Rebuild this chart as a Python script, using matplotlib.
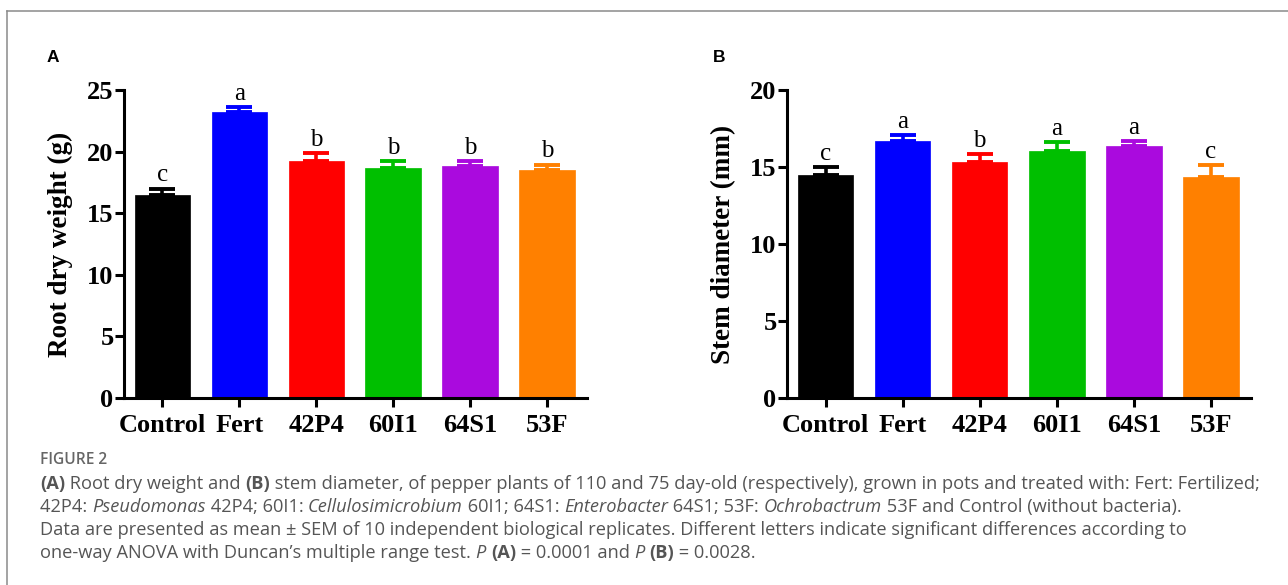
import matplotlib
matplotlib.use("Agg")
import matplotlib.pyplot as plt
from matplotlib.lines import Line2D

categories = ["Control", "Fert", "42P4", "60I1", "64S1", "53F"]
colors = ["#000000", "#0000FF", "#FF0000", "#00BF00", "#AA0ADE", "#FF8000"]

root_weight = [16.5, 23.2, 19.2, 18.7, 18.8, 18.5]
root_err = [0.5, 0.4, 0.65, 0.5, 0.4, 0.45]
root_letters = ["c", "a", "b", "b", "b", "b"]

stem_diam = [14.45, 16.7, 15.3, 16.05, 16.35, 14.35]
stem_err = [0.55, 0.38, 0.55, 0.55, 0.33, 0.75]
stem_letters = ["c", "a", "b", "a", "a", "c"]

SERIF = "Liberation Serif"
W, H = 1288, 585

fig = plt.figure(figsize=(W / 100, H / 100), dpi=100)


def panel(rect, values, errs, letters, ylabel, ymax, step, tag, tag_x):
    ax = fig.add_axes(rect)
    x = range(len(categories))
    ax.bar(x, values, width=0.72, color=colors, edgecolor=colors, linewidth=0.5, zorder=2)
    for i in x:
        ax.errorbar(i, values[i], yerr=[[0], [errs[i]]], color=colors[i],
                    elinewidth=2.6, capsize=9.5, capthick=2.8, zorder=1)
        ax.annotate(letters[i], (i, values[i] + errs[i]), xytext=(0, 1.5),
                    textcoords="offset points", ha="center", va="bottom",
                    fontsize=18, family=SERIF)
    ax.set_xlim(-0.5, 5.52)
    ax.set_ylim(0, ymax)
    ax.set_yticks(range(0, ymax + 1, step))
    ax.set_xticks(list(x))
    ax.set_xticklabels(categories, fontsize=19, fontweight="bold", family=SERIF)
    for lab in ax.get_yticklabels():
        lab.set_fontsize(19)
        lab.set_fontweight("bold")
        lab.set_family(SERIF)
    ax.set_ylabel(ylabel, fontsize=19.5, fontweight="bold", family=SERIF, labelpad=10)
    for s in ["top", "right"]:
        ax.spines[s].set_visible(False)
    for s in ["left", "bottom"]:
        ax.spines[s].set_linewidth(2.2)
    ax.tick_params(axis="both", width=2.2, length=6.5, direction="out")
    ax.tick_params(axis="x", pad=5)
    ax.tick_params(axis="y", pad=1)
    fig.text(tag_x / W, 1 - 57 / H, tag, fontsize=12.5, fontweight="bold",
             family="Liberation Sans", ha="left", va="center")
    return ax


panel([124 / W, 1 - 398 / H, (587 - 124) / W, 308 / H], root_weight, root_err,
      root_letters, "Root dry weight (g)", 25, 5, "A", 47)
panel([787 / W, 1 - 398 / H, (1251 - 787) / W, 308 / H], stem_diam, stem_err,
      stem_letters, "Stem diameter (mm)", 20, 5, "B", 713)

# frame around the figure
fig.add_artist(Line2D([7 / W, 1], [1 - 11 / H] * 2, color="#8a8a8a", lw=1.1,
                      transform=fig.transFigure))
fig.add_artist(Line2D([7 / W] * 2, [0, 1 - 11 / H], color="#8a8a8a", lw=1.1,
                      transform=fig.transFigure))

# caption
CAP = "Open Sans"
CAPCOL = "#555555"
renderer = fig.canvas.get_renderer()


def text_width(s, style, weight, size):
    a = fig.text(0, 0, s + "x", fontsize=size, family=CAP, fontstyle=style, fontweight=weight)
    b = fig.text(0, 0, "x", fontsize=size, family=CAP, fontstyle=style, fontweight=weight)
    w = a.get_window_extent(renderer).width - b.get_window_extent(renderer).width
    a.remove()
    b.remove()
    return w


def kind_style(kind):
    return ("italic" if kind == "i" else "normal"), ("bold" if kind == "b" else "normal")


def runs_width(runs, size):
    return sum(text_width(s, *kind_style(k), size) for s, k in runs)


def draw_runs(x_px, y_px, runs, size):
    x = x_px
    for s, kind in runs:
        style, weight = kind_style(kind)
        fig.text(x / W, 1 - y_px / H, s, fontsize=size, family=CAP, color=CAPCOL,
                 fontstyle=style, fontweight=weight, ha="left", va="center")
        x += text_width(s, style, weight, size)


lines = [
    [("(A)", "b"), (" Root dry weight and ", "n"), ("(B)", "b"),
     (" stem diameter, of pepper plants of 110 and 75 day-old (respectively), grown in pots and treated with: Fert: Fertilized;", "n")],
    [("42P4: ", "n"), ("Pseudomonas", "i"), (" 42P4; 60I1: ", "n"), ("Cellulosimicrobium", "i"),
     (" 60I1; 64S1: ", "n"), ("Enterobacter", "i"), (" 64S1; 53F: ", "n"), ("Ochrobactrum", "i"),
     (" 53F and Control (without bacteria).", "n")],
    [("Data are presented as mean \u00b1 SEM of 10 independent biological replicates. Different letters indicate significant differences according to", "n")],
    [("one-way ANOVA with Duncan\u2019s multiple range test. ", "n"), ("P", "i"), (" ", "n"), ("(A)", "b"),
     (" = 0.0001 and ", "n"), ("P", "i"), (" ", "n"), ("(B)", "b"), (" = 0.0028.", "n")],
]

# fit the first caption line to the text block width
cap_size = 10.0 * 1222 / runs_width(lines[0], 10.0)

fig.text(40 / W, 1 - 460 / H, "FIGURE 2", fontsize=cap_size * 0.85, family=CAP,
         fontweight="semibold", color="#666666", ha="left", va="center")
for k, runs in enumerate(lines):
    draw_runs(40, 484 + 23 * k, runs, cap_size)

fig.savefig("out.png", dpi=100)
